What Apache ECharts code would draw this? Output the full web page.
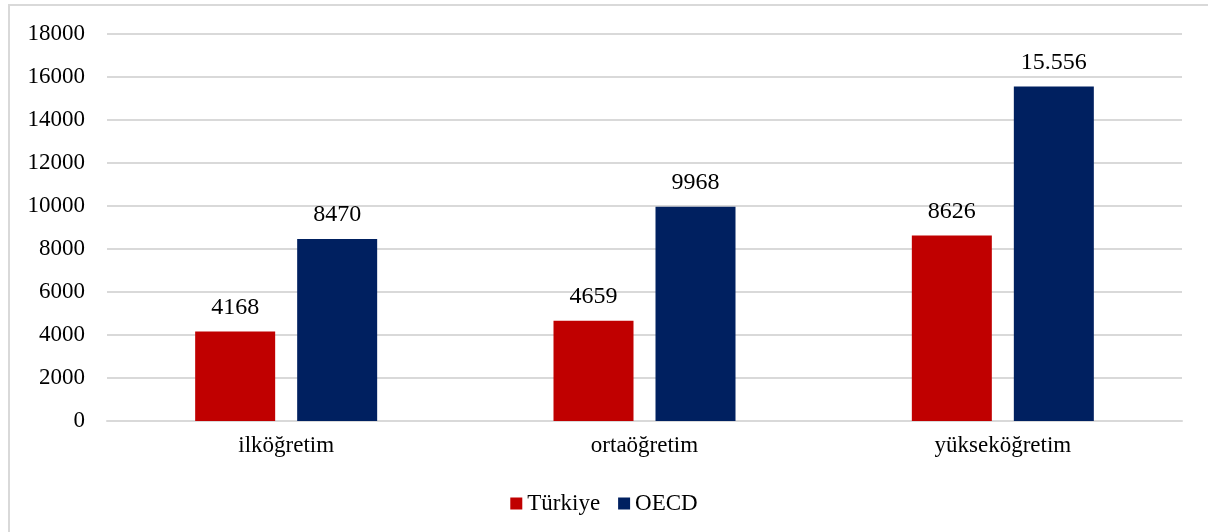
<!DOCTYPE html>
<html>
<head>
<meta charset="utf-8">
<script src="https://cdn.jsdelivr.net/npm/echarts@6/dist/echarts.min.js"></script>
<style>
html,body{margin:0;padding:0;background:#fff;}
#chart{width:1208px;height:532px;}
</style>
</head>
<body>
<div id="chart"></div>
<script>
var categories = ['ilköğretim', 'ortaöğretim', 'yükseköğretim'];
var turkiyeValues = [4168, 4659, 8626];
var oecdValues = [8470, 9968, 15556];
var turkiyeLabels = ['4168', '4659', '8626'];
var oecdLabels = ['8470', '9968', '15.556'];
var yTicks = [0, 2000, 4000, 6000, 8000, 10000, 12000, 14000, 16000, 18000];

var FONT = "'Liberation Serif', 'Times New Roman', serif";
var chart = echarts.init(document.getElementById('chart'));
chart.setOption({
  backgroundColor: '#fff',
  animation: false,
  textStyle: { fontFamily: FONT, color: '#000' },
  graphic: [
    { type: 'line', shape: { x1: 8, y1: 5, x2: 1208, y2: 5 }, style: { stroke: '#D9D9D9', lineWidth: 2 } },
    { type: 'line', shape: { x1: 9, y1: 4, x2: 9, y2: 532 }, style: { stroke: '#D9D9D9', lineWidth: 2 } }
  ],
  grid: { left: 107, right: 26, top: 34, bottom: 111, containLabel: false },
  legend: {
    bottom: 12,
    left: 'center',
    itemWidth: 12,
    itemHeight: 12,
    itemGap: 18,
    icon: 'rect',
    textStyle: { fontFamily: FONT, fontSize: 23, color: '#000' },
    data: ['Türkiye', 'OECD']
  },
  xAxis: {
    type: 'category',
    data: categories,
    axisLine: { show: true, lineStyle: { color: '#D9D9D9', width: 2 } },
    axisTick: { show: false },
    axisLabel: { fontFamily: FONT, fontSize: 23, color: '#000', margin: 13 }
  },
  yAxis: {
    type: 'value',
    min: yTicks[0],
    max: yTicks[yTicks.length - 1],
    interval: 2000,
    axisLine: { show: false },
    axisTick: { show: false },
    axisLabel: {
      fontFamily: FONT, fontSize: 23, color: '#000', margin: 22,
      formatter: function (v) { return String(v); }
    },
    splitLine: { lineStyle: { color: '#D9D9D9', width: 2 } }
  },
  series: [
    {
      name: 'Türkiye',
      type: 'bar',
      data: turkiyeValues,
      barWidth: 80,
      barGap: '27.5%',
      itemStyle: { color: '#C00000' },
      label: {
        show: true, position: 'top', distance: 12,
        fontFamily: FONT, fontSize: 24, color: '#000',
        formatter: function (p) { return turkiyeLabels[p.dataIndex]; }
      }
    },
    {
      name: 'OECD',
      type: 'bar',
      data: oecdValues,
      barWidth: 80,
      itemStyle: { color: '#002060' },
      label: {
        show: true, position: 'top', distance: 12,
        fontFamily: FONT, fontSize: 24, color: '#000',
        formatter: function (p) { return oecdLabels[p.dataIndex]; }
      }
    }
  ]
});
</script>
</body>
</html>
